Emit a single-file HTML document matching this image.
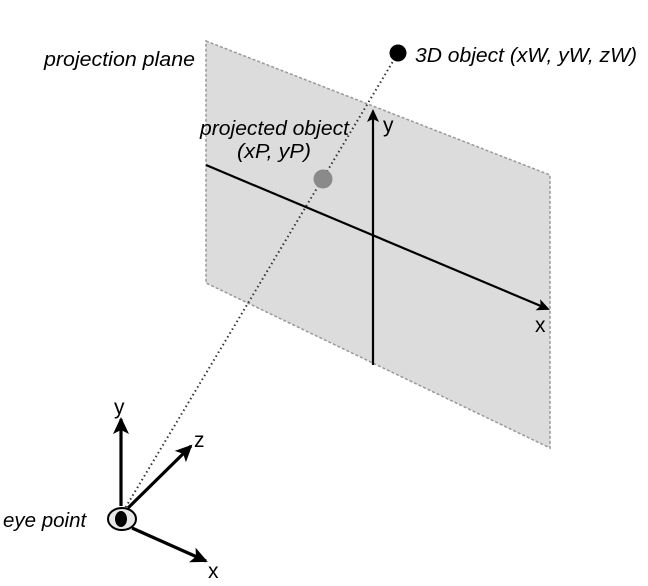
<!DOCTYPE html>
<html><head><style>
html,body{margin:0;padding:0;background:#fff;}
svg{display:block;}
text{font-family:"Liberation Sans",Arial,sans-serif;}
</style></head><body>
<svg width="648" height="586" viewBox="0 0 648 586" xmlns="http://www.w3.org/2000/svg">
<defs>
<marker id="a" markerWidth="14" markerHeight="14" refX="11" refY="7" orient="auto" markerUnits="userSpaceOnUse">
<path d="M0,1 L13,7 L0,13 L3,7 Z" fill="#000"/></marker>
<marker id="b" markerWidth="18" markerHeight="18" refX="15" refY="9" orient="auto" markerUnits="userSpaceOnUse">
<path d="M0,1 L17,9 L0,17 L4,9 Z" fill="#000"/></marker>
</defs>
<polygon points="206,41 550,175 550,448 206,283" fill="#dcdcdc" stroke="#999" stroke-width="1.5" stroke-dasharray="3,2"/>
<line x1="206" y1="165" x2="548" y2="309" stroke="#000" stroke-width="2.2" marker-end="url(#a)"/>
<line x1="373" y1="365" x2="373" y2="111" stroke="#000" stroke-width="2.2" marker-end="url(#a)"/>
<line x1="121" y1="515" x2="398" y2="53" stroke="#333" stroke-width="2" stroke-dasharray="1.5,3"/>
<circle cx="398" cy="53" r="8.5" fill="#000"/>
<circle cx="323" cy="179" r="9.5" fill="#8a8a8a"/>
<line x1="121" y1="506" x2="121" y2="419" stroke="#000" stroke-width="3.2" marker-end="url(#b)"/>
<line x1="128" y1="508" x2="191" y2="446" stroke="#000" stroke-width="3.2" marker-end="url(#b)"/>
<line x1="132" y1="528" x2="206" y2="561" stroke="#000" stroke-width="3.2" marker-end="url(#b)"/>
<ellipse cx="122" cy="519" rx="14" ry="11" fill="#e8e8e8" stroke="#000" stroke-width="2"/>
<ellipse cx="121" cy="519" rx="6" ry="8" fill="#000"/>
<g font-style="italic" font-size="20.5" fill="#000">
<text x="44" y="66" textLength="151" lengthAdjust="spacingAndGlyphs">projection plane</text>
<text x="415" y="62" textLength="222" lengthAdjust="spacingAndGlyphs">3D object (xW, yW, zW)</text>
<text x="200" y="135" textLength="149" lengthAdjust="spacingAndGlyphs">projected object</text>
<text x="237" y="158" textLength="74" lengthAdjust="spacingAndGlyphs">(xP, yP)</text>
<text x="3" y="527">eye point</text>
</g>
<g font-size="21" fill="#000">
<text x="383" y="132">y</text>
<text x="535" y="332">x</text>
<text x="114" y="414">y</text>
<text x="194" y="447">z</text>
<text x="208" y="578">x</text>
</g>
</svg>
</body></html>
